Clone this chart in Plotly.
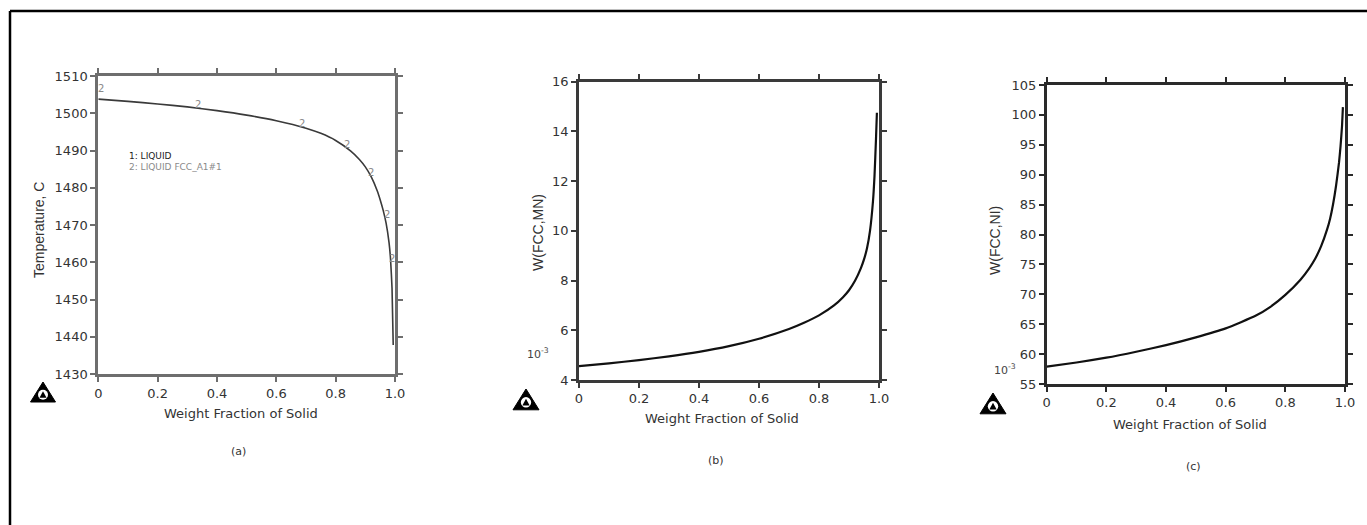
import plotly.graph_objects as go

W, H = 1367, 525

# ---- data -------------------------------------------------------------
# (a) temperature along the solidification path
frac_a = [0, 0.1, 0.2, 0.3, 0.4, 0.5, 0.6, 0.7, 0.75, 0.8, 0.85, 0.88, 0.9,
          0.92, 0.94, 0.95, 0.96, 0.97, 0.98, 0.985, 0.99, 0.994]
temp_a = [1503.8, 1503.2, 1502.5, 1501.7, 1500.7, 1499.5, 1498.0, 1496.0,
          1494.6, 1492.7, 1489.9, 1487.6, 1485.6, 1482.9, 1479.2, 1476.8,
          1474.0, 1470.5, 1465.2, 1460.8, 1453.0, 1437.8]
# curve labels ("2") placed along path (a)
lab_frac_a = [0.008, 0.337, 0.685, 0.837, 0.92, 0.972, 0.989, 1.01]
lab_temp_a = [1506.6, 1502.3, 1497.3, 1491.5, 1484.0, 1472.7, 1461.0, 1443.6]

# (b) W(FCC,MN), units of 1e-3
frac_b = [0, 0.1, 0.2, 0.3, 0.4, 0.5, 0.6, 0.7, 0.75, 0.8, 0.85, 0.88, 0.9,
          0.92, 0.94, 0.95, 0.96, 0.97, 0.98, 0.985, 0.99, 0.993]
w_mn = [4.56, 4.67, 4.80, 4.95, 5.13, 5.36, 5.66, 6.05, 6.30, 6.60, 7.00,
        7.33, 7.61, 7.99, 8.51, 8.85, 9.30, 10.00, 11.20, 12.20, 13.70, 14.75]

# (c) W(FCC,NI), units of 1e-3
frac_c = [0, 0.1, 0.2, 0.3, 0.4, 0.5, 0.6, 0.7, 0.75, 0.8, 0.85, 0.88, 0.9,
          0.92, 0.94, 0.95, 0.96, 0.97, 0.98, 0.985, 0.99, 0.993]
w_ni = [57.9, 58.6, 59.4, 60.4, 61.5, 62.8, 64.3, 66.4, 67.9, 69.9, 72.4,
        74.35, 75.95, 78.05, 80.85, 82.65, 85.05, 88.15, 92.05, 94.75, 98.15,
        101.3]

x_ticks = [0, 0.2, 0.4, 0.6, 0.8, 1.0]
x_ticktext = ["0", "0.2", "0.4", "0.6", "0.8", "1.0"]
ya_ticks = [1430, 1440, 1450, 1460, 1470, 1480, 1490, 1500, 1510]
yb_ticks = [4, 6, 8, 10, 12, 14, 16]
yc_ticks = [55, 60, 65, 70, 75, 80, 85, 90, 95, 100, 105]

# ---- helpers ----------------------------------------------------------
def px(x):
    return x / W


def py(y):
    return 1 - y / H


TICK_FONT = dict(family="DejaVu Sans", size=13, color="#333333")


def xaxis(dom, anchor, color, width):
    return dict(domain=[px(dom[0]), px(dom[1])], anchor=anchor, range=[0, 1],
                tickvals=x_ticks, ticktext=x_ticktext, showgrid=False,
                zeroline=False, showline=True, linecolor=color, linewidth=width,
                mirror="allticks", ticks="outside", ticklen=5, tickwidth=2,
                tickcolor=color, tickfont=TICK_FONT, automargin=False)


def yaxis(dom, anchor, rng, vals, color, width):
    return dict(domain=[py(dom[1]), py(dom[0])], anchor=anchor, range=rng,
                tickvals=vals, showgrid=False, zeroline=False, showline=True,
                linecolor=color, linewidth=width, mirror="allticks",
                ticks="outside", ticklen=5, tickwidth=2, tickcolor=color,
                tickfont=TICK_FONT, automargin=False)


def curve(x, y, xa, ya, color, width):
    return go.Scatter(x=x, y=y, mode="lines", xaxis=xa, yaxis=ya,
                      line=dict(color=color, width=width, shape="spline",
                                smoothing=0.5))


fig = go.Figure()
fig.add_trace(curve(frac_a, temp_a, "x", "y", "#3a3a3a", 1.6))
fig.add_trace(curve(frac_b, w_mn, "x2", "y2", "#111111", 2.2))
fig.add_trace(curve(frac_c, w_ni, "x3", "y3", "#111111", 2.2))


def note(x, y, text, font, **kw):
    d = dict(x=px(x), y=py(y), xref="paper", yref="paper", text=text,
             showarrow=False, xanchor="center", yanchor="middle", font=font)
    d.update(kw)
    return d


annotations = []
# curve labels on (a)
for f, t in zip(lab_frac_a, lab_temp_a):
    annotations.append(dict(x=f, y=t, xref="x", yref="y", text="2",
                            showarrow=False, xanchor="center", yanchor="middle",
                            font=dict(family="DejaVu Sans", size=10,
                                      color="#8a8a8a")))

# legend text of (a)
annotations.append(note(127, 156, "1: LIQUID",
                        dict(family="DejaVu Sans", size=9, color="#222222"),
                        xanchor="left"))
annotations.append(note(127, 167, "2: LIQUID FCC_A1#1",
                        dict(family="DejaVu Sans", size=9, color="#8a8a8a"),
                        xanchor="left"))

TITLE_FONT = dict(family="Liberation Sans", size=14, color="#333333")
XT_FONT = dict(family="DejaVu Sans", size=13, color="#333333")
CAP_FONT = dict(family="DejaVu Sans", size=11, color="#333333")

# axis titles and captions
for x, y in [(241, 413), (722, 418), (1190, 424)]:
    annotations.append(note(x, y, "Weight Fraction of Solid", XT_FONT))
for x, y, txt in [(238, 451, "(a)"), (716, 460, "(b)"), (1193, 466, "(c)")]:
    annotations.append(note(x, y, txt, CAP_FONT))
for x, y, txt in [(39, 230, "Temperature, C"), (538, 233, "W(FCC,MN)"),
                  (995, 240, "W(FCC,NI)")]:
    annotations.append(note(x, y, txt, TITLE_FONT, textangle=-90))
for x, y in [(538, 353), (1005, 369)]:
    annotations.append(note(x, y, "10<sup>-3</sup>",
                            dict(family="DejaVu Sans", size=11,
                                 color="#444444")))

shapes = []
# outer frame: left and top edges
shapes.append(dict(type="line", xref="paper", yref="paper", x0=px(10), x1=px(10),
                   y0=py(11), y1=py(525), line=dict(color="black", width=2.5)))
shapes.append(dict(type="line", xref="paper", yref="paper", x0=px(10), x1=px(1367),
                   y0=py(11), y1=py(11), line=dict(color="black", width=2.5)))


def logo(cx, top, size):
    half = size / 2
    h = size * 0.8
    tri = "M {} {} L {} {} L {} {} Z".format(
        px(cx), py(top), px(cx - half), py(top + h), px(cx + half), py(top + h))
    out = [dict(type="path", xref="paper", yref="paper", path=tri,
                fillcolor="black", line=dict(color="black", width=1))]
    r = size * 0.2
    cy = top + h * 0.64
    out.append(dict(type="circle", xref="paper", yref="paper",
                    x0=px(cx - r), x1=px(cx + r), y0=py(cy + r), y1=py(cy - r),
                    fillcolor="white", line=dict(color="white", width=0)))
    inner = "M {} {} L {} {} L {} {} Z".format(
        px(cx), py(cy - r * 0.7), px(cx - r * 0.7), py(cy + r * 0.6),
        px(cx + r * 0.7), py(cy + r * 0.6))
    out.append(dict(type="path", xref="paper", yref="paper", path=inner,
                    fillcolor="black", line=dict(color="black", width=0)))
    return out


shapes += logo(43, 382, 25)
shapes += logo(526, 389, 26)
shapes += logo(993, 393, 26)

fig.update_layout(
    width=W, height=H,
    margin=dict(l=0, r=0, t=0, b=0, pad=0, autoexpand=False),
    paper_bgcolor="white", plot_bgcolor="white", showlegend=False,
    xaxis=xaxis((98.3, 395), "y", "#6e6e6e", 3),
    yaxis=yaxis((76, 374), "x", [1430, 1510], ya_ticks, "#6e6e6e", 3),
    xaxis2=xaxis((579, 879), "y2", "#3a3a3a", 2.5),
    yaxis2=yaxis((81.7, 380), "x2", [4, 16], yb_ticks, "#3a3a3a", 2.5),
    xaxis3=xaxis((1046.7, 1345), "y3", "#2a2a2a", 2.5),
    yaxis3=yaxis((85, 384), "x3", [55, 105], yc_ticks, "#2a2a2a", 2.5),
    annotations=annotations, shapes=shapes,
)

fig.write_html("out.html")
